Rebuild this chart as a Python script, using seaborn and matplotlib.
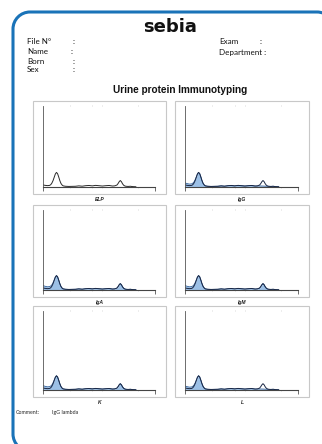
import matplotlib
matplotlib.use("Agg")
import matplotlib.pyplot as plt
import matplotlib.patches as mpatches
from matplotlib.path import Path
import seaborn as sns
import pandas as pd

sns.set_style("white")
plt.rcParams['font.family'] = ['Liberation Sans', 'DejaVu Sans']

# ---------------- data ----------------
header_left = ["File N°", "Name", "Born", "Sex"]
header_right = ["Exam", "Department"]
title = "Urine protein Immunotyping"
comment_label = "Comment:"
comment_text = "IgG lambda"
panels = ["ELP", "IgG", "IgA", "IgM", "K", "L"]

# migration position (relative units) of the densitometric scan
scan_x = [0, 2, 4, 6, 7, 8, 9, 10, 11, 12, 13, 14, 15, 16, 17, 18, 20, 23, 26, 29,
          32, 35, 38, 41, 44, 47, 50, 53, 56, 59, 62, 64, 66, 67, 68, 69, 70, 71, 72,
          73, 74, 76, 78, 80, 83]
# ELP reference profile
elp_y = [2.5, 2.0, 1.7, 2.0, 3.0, 5.0, 8.0, 12.0, 16.0, 18.0, 16.5, 12.5, 8.0, 4.5, 2.5,
         1.4, 0.9, 0.7, 0.8, 0.9, 1.4, 1.0, 1.6, 1.9, 1.4, 2.0, 1.6, 1.2, 1.6, 1.9,
         1.2, 1.4, 2.4, 4.2, 6.5, 8.0, 6.6, 4.0, 2.2, 1.3, 0.9, 0.7, 0.9, 0.5, 0.3]
# immunotyping profiles (monoclonal peak removed in IgG and lambda)
depleted_y = [5.0, 4.2, 3.6, 3.9, 4.8, 6.4, 9.0, 12.5, 16.2, 18.0, 16.5, 12.5, 8.0, 4.5,
              2.5, 1.4, 0.9, 0.7, 0.8, 0.9, 1.4, 1.0, 1.6, 1.9, 1.4, 2.0, 1.6, 1.2, 1.6,
              1.9, 1.2, 1.2, 1.3, 1.3, 1.2, 1.2, 1.1, 1.0, 1.0, 0.9, 0.8, 0.7, 0.9, 0.5, 0.3]
kept_y = [5.5, 4.6, 4.0, 4.3, 5.1, 6.6, 9.2, 12.6, 16.3, 18.0, 16.5, 12.5, 8.0, 4.5, 2.5,
          1.4, 0.9, 0.7, 0.8, 0.9, 1.4, 1.0, 1.6, 1.9, 1.4, 2.0, 1.6, 1.2, 1.6, 1.9,
          1.2, 1.4, 2.4, 4.2, 6.5, 8.0, 6.6, 4.0, 2.2, 1.3, 0.9, 0.7, 0.9, 0.5, 0.3]
panel_fill = {"ELP": None, "IgG": depleted_y, "IgA": kept_y, "IgM": kept_y,
              "K": kept_y, "L": depleted_y}
minor_marks = [24, 44, 53, 85]

# ---------------- figure ----------------
W, H = 322, 444
fig = plt.figure(figsize=(W / 100, H / 100), dpi=100)

def px_axes(x0, y0, x1, y1):
    return fig.add_axes([x0 / W, 1 - y1 / H, (x1 - x0) / W, (y1 - y0) / H])

bg = fig.add_axes([0, 0, 1, 1])
bg.set_xlim(0, W)
bg.set_ylim(H, 0)
bg.axis("off")

# page frame: rounded corners, right and bottom edges run off the page
k = 0.5523
r = 17
L, T, R, B = 13, 12, 334, 451
verts = [(R, T + r + 30), (R, T + r),
         (R, T + r - k * r), (R - r + k * r, T), (R - r, T),
         (L + r, T),
         (L + r - k * r, T), (L, T + r - k * r), (L, T + r),
         (L, B - r),
         (L, B - r + k * r), (L + r - k * r, B), (L + r, B),
         (R + 10, B)]
codes = [Path.MOVETO, Path.LINETO, Path.CURVE4, Path.CURVE4, Path.CURVE4,
         Path.LINETO, Path.CURVE4, Path.CURVE4, Path.CURVE4,
         Path.LINETO, Path.CURVE4, Path.CURVE4, Path.CURVE4, Path.LINETO]
bg.add_patch(mpatches.PathPatch(Path(verts, codes), fill=False, edgecolor="#1a73b8",
                                linewidth=2.2, capstyle="butt"))

bg.text(170, 27, "sebia", ha="center", va="center", fontsize=13, fontweight="heavy",
        family=["DejaVu Sans"], color="#111111")
hfam = ["Lato", "DejaVu Sans"]
ys = [42, 52, 61, 70]
colx = [73, 71, 73, 73]
for lab, y, cx in zip(header_left, ys, colx):
    bg.text(27, y, lab, ha="left", va="center", fontsize=5.8, family=hfam, color="#111111")
    bg.text(cx, y, ":", ha="left", va="center", fontsize=5.8, family=hfam, color="#111111")
bg.text(219, 42, header_right[0], ha="left", va="center", fontsize=5.8, family=hfam, color="#111111")
bg.text(260, 42, ":", ha="left", va="center", fontsize=5.8, family=hfam, color="#111111")
bg.text(219, 52, header_right[1] + " :", ha="left", va="center", fontsize=5.8, family=hfam, color="#111111")
bg.text(180, 90, title, ha="center", va="center", fontsize=7.2, fontweight="bold", color="#111111")
bg.text(16, 412, comment_label, ha="left", va="center", fontsize=3.8, family=hfam)
bg.text(52, 412, comment_text, ha="left", va="center", fontsize=3.8, family=hfam)

boxes = [(33, 101, 166, 194), (175, 101, 309, 194),
         (33, 205, 166, 297), (175, 205, 309, 297),
         (33, 306, 166, 397), (175, 306, 309, 397)]

for name, (x0, y0, x1, y1) in zip(panels, boxes):
    box = mpatches.Rectangle((x0, y0), x1 - x0, y1 - y0, fill=False,
                             edgecolor="#c8c8c8", linewidth=0.8)
    bg.add_patch(box)
    bg.text((x0 + x1) / 2, y1 + 5, name, ha="center", va="center", fontsize=3.6,
            fontstyle="italic", fontweight="bold", color="#222222")

    ax = px_axes(x0 + 10, y0 + 5, x1 - 11, y1 - 7)
    ax.set_facecolor("none")
    df = pd.DataFrame({"x": scan_x, "elp": elp_y})
    fy = panel_fill[name]
    if fy is not None:
        ax.fill_between(scan_x, 0, fy, color="#9cc0e6", linewidth=0)
        sns.lineplot(x=scan_x, y=fy, ax=ax, color="#2f5f9a", linewidth=0.6)
        line_col = "#1a2744"
    else:
        line_col = "#2a2a2a"
    sns.lineplot(data=df, x="x", y="elp", ax=ax, color=line_col, linewidth=0.7)
    ax.set_xlim(0, 100)
    ax.set_ylim(0, 100)
    ax.set_xlabel("")
    ax.set_ylabel("")
    for s in ["top", "right"]:
        ax.spines[s].set_visible(False)
    ax.spines["left"].set_color("#555555")
    ax.spines["left"].set_linewidth(0.6)
    ax.spines["bottom"].set_color("#444444")
    ax.spines["bottom"].set_linewidth(0.8)
    ax.set_xticks([0, 100])
    ax.set_xticklabels([])
    ax.set_yticks([])
    ax.tick_params(axis="x", which="major", direction="out", length=3, width=0.6,
                   color="#555555", bottom=True)
    ax.set_xticks(minor_marks, minor=True)
    ax.tick_params(axis="x", which="minor", direction="out", length=1, width=0.5,
                   color="#cccccc", bottom=True, top=True)

fig.savefig("out.png", dpi=100)
